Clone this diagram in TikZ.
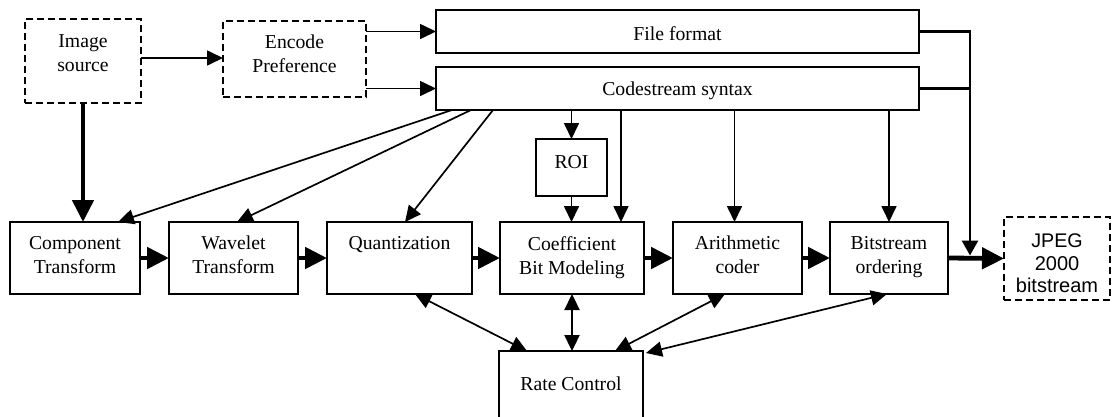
\documentclass[tikz,border=0pt]{standalone}
\usepackage{fontspec}
\setmainfont{Liberation Serif}
\newfontfamily\arialfnt{Liberation Sans}
\usetikzlibrary{arrows.meta,calc}
\newcommand\tmfont{\fontsize{19.7}{24}\selectfont}
\newcommand\sffnt{\arialfnt\fontsize{20}{22.5}\selectfont}
\begin{document}
\begin{tikzpicture}[x=1pt,y=-1pt,
  boxs/.style={draw, line width=2pt, rectangle, inner sep=0pt, outer sep=0pt},
  dboxs/.style={boxs, dash pattern=on 7pt off 4pt},
  lbl/.style={font=\tmfont, align=center, inner sep=0pt, anchor=north},
  arrthin/.style={line width=1.7pt, -{Triangle[length=16pt,width=15pt]}},
  arrthick/.style={line width=4.8pt, -{Triangle[length=22pt,width=21pt]}},
  arrbus/.style={line width=2.8pt, -{Triangle[length=15pt,width=16pt]}},
  arrdbl/.style={line width=1.7pt, {Triangle[length=16pt,width=15pt]}-{Triangle[length=16pt,width=15pt]}},
  arrdblm/.style={line width=2.3pt, {Triangle[length=16pt,width=15pt]}-{Triangle[length=16pt,width=15pt]}}
]
\useasboundingbox (0,0) rectangle (1112,416);

% boxes
\node[dboxs, minimum width=116pt, minimum height=84pt] (imgsrc) at (83,61) {};
\node[dboxs, minimum width=143pt, minimum height=76pt] (enc) at (294.5,59) {};
\node[boxs, minimum width=483pt, minimum height=43pt] (ff) at (677.5,31.5) {};
\node[boxs, minimum width=483pt, minimum height=43pt] (cs) at (677.5,88.5) {};
\node[boxs, minimum width=71pt, minimum height=57pt] (roi) at (571.5,167.5) {};
\node[boxs, minimum width=130pt, minimum height=72pt] (comp) at (75,258) {};
\node[boxs, minimum width=129pt, minimum height=72pt] (wav) at (233.5,258) {};
\node[boxs, minimum width=145pt, minimum height=72pt] (quant) at (399.5,258) {};
\node[boxs, minimum width=144pt, minimum height=72pt] (coef) at (572,258) {};
\node[boxs, minimum width=129pt, minimum height=72pt] (arith) at (737.5,258) {};
\node[boxs, minimum width=118pt, minimum height=72pt] (bits) at (889,258) {};
\node[dboxs, minimum width=106pt, minimum height=83pt] (jpeg) at (1057,258.5) {};
\node[boxs, minimum width=144pt, minimum height=68pt] (rate) at (571,385) {};

% texts
\node[lbl] (imgsrct) at ([yshift=-15pt]imgsrc.north) {Image\\source};
\node[lbl] (enct) at ([yshift=-14pt]enc.north) {Encode\\Preference};
\node[lbl] (fft) at ([yshift=-16pt]ff.north) {File format};
\node[lbl] (cst) at ([yshift=-15pt]cs.north) {Codestream syntax};
\node[lbl] (roit) at ([yshift=-16pt]roi.north) {ROI};
\node[lbl] (compt) at ([yshift=-14pt]comp.north) {Component\\Transform};
\node[lbl] (wavt) at ([yshift=-14pt]wav.north) {Wavelet\\Transform};
\node[lbl] (quantt) at ([yshift=-14pt]quant.north) {Quantization};
\node[lbl] (coeft) at ([yshift=-14pt]coef.north) {Coefficient\\Bit Modeling};
\node[lbl] (aritht) at ([yshift=-14pt]arith.north) {Arithmetic\\coder};
\node[lbl] (bitst) at ([yshift=-14pt]bits.north) {Bitstream\\ordering};
\node[lbl, font=\sffnt] (jpegt) at ([yshift=-17pt]jpeg.north) {{\tmfont JPEG}\\2000\\bitstream};
\node[lbl] (ratet) at ([yshift=-26pt]rate.north) {Rate Control};

% top connectors
\draw[arrthin] ([yshift=3pt]imgsrc.east) -- ([yshift=3pt]imgsrc.east -| enc.west);
\draw[arrthin] (enc.east |- ff.west) -- (ff.west);
\draw[arrthin] (enc.east |- cs.west) -- (cs.west);
\draw[arrthick] (imgsrc.south) -- (imgsrc.south |- comp.north);

% codestream fan-out
\draw[arrthin] ([xshift=16pt]cs.south west) -- ([xshift=43pt]comp.north);
\draw[arrthin] ([xshift=35pt]cs.south west) -- ([xshift=3.5pt]wav.north);
\draw[arrthin] ([xshift=57pt]cs.south west) -- ([xshift=5.5pt]quant.north);
\draw[arrthin] (cs.south -| roi.north) -- (roi.north);
\draw[arrthin] (roi.south) -- (roi.south |- coef.north);
\coordinate (cfin) at ([xshift=49pt]coef.north);
\draw[arrthin] (cs.south -| cfin) -- (cfin);
\coordinate (afin) at ([xshift=-3pt]arith.north);
\draw[arrthin] (cs.south -| afin) -- (afin);
\draw[arrthin] (cs.south -| bits.north) -- (bits.north);

% bus to output
\coordinate (busend) at (970,255.5);
\draw[arrbus] (ff.east) -| (busend);
\draw[line width=2.8pt] (cs.east) -- (cs.east -| busend);

% main flow
\draw[arrthick] (comp.east) -- (wav.west);
\draw[arrthick] (wav.east) -- (quant.west);
\draw[arrthick] (quant.east) -- (coef.west);
\draw[arrthick] (coef.east) -- (arith.west);
\draw[arrthick] (arith.east) -- (bits.west);
\draw[arrthick] (bits.east) -- (jpeg.west);

% rate control
\draw[arrdbl] ([xshift=15.5pt]quant.south) -- ([xshift=-44pt]rate.north);
\draw[arrdblm] (coef.south) -- (coef.south |- rate.north);
\draw[arrdbl] ([xshift=-12.5pt]arith.south) -- ([xshift=44pt]rate.north);
\draw[arrdbl] ([xshift=-2pt]bits.south) -- ([xshift=3pt,yshift=-2pt]rate.north east);
\end{tikzpicture}
\end{document}
